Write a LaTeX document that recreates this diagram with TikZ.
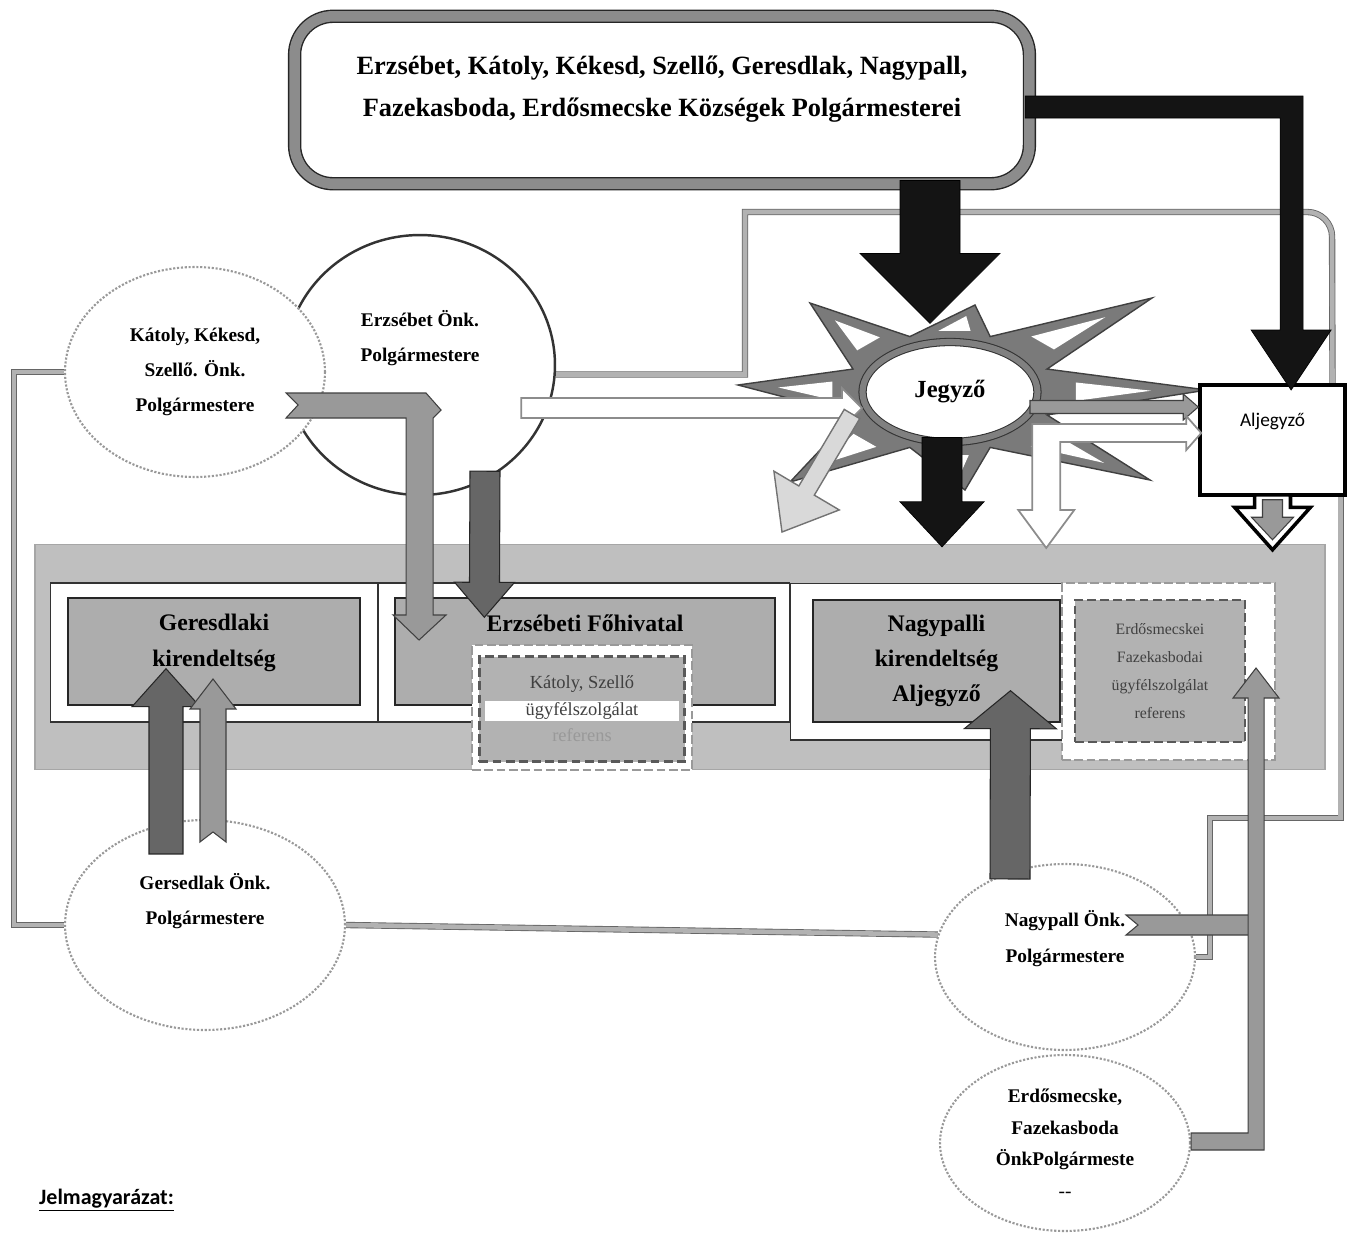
\documentclass[tikz,border=0pt]{standalone}
\usepackage{fontspec}
\setmainfont{Liberation Serif}
\newfontfamily\calfont{Carlito}
\usepackage{tikz}
\usetikzlibrary{calc, shapes.geometric, backgrounds}
\setlength{\fboxsep}{1pt}

\tikzset{
    % Polgarmesterek
    kozbox/.style={rectangle, rounded corners=22pt, draw=black!85, line width=0.8pt,
                double=black!45, double distance=6pt, fill=white,
                minimum width=14.7cm, minimum height=3.35cm, align=center,
                font=\fontsize{15}{24}\selectfont\bfseries},
    onk/.style={ellipse, fill=white, draw=black!40, line width=1.2pt, densely dotted,
                inner sep=0pt, align=center, font=\fontsize{11}{20}\selectfont\bfseries},
    onkfo/.style={onk, draw=black!80, solid, line width=1.4pt},
    % Hivatal
    hband/.style={rectangle, fill=black!25, draw=black!35, line width=0.8pt,
                minimum width=25.8cm, minimum height=4.5cm},
    hpanel/.style={rectangle, fill=white, draw=black!80, line width=0.6pt},
    hoffice/.style={rectangle, fill=black!32, draw=black!85, line width=0.8pt, align=center,
                font=\fontsize{13.5}{20}\selectfont\bfseries},
    refouter/.style={rectangle, fill=white, draw=black!40, line width=1.6pt,
                dash pattern=on 5pt off 2pt},
    refinner/.style={rectangle, fill=black!30, draw=black!65, line width=1.4pt,
                dash pattern=on 5pt off 2.5pt, align=center, text=black!75,
                font=\fontsize{9}{16}\selectfont},
    % Jegyzo
    jegyzoell/.style={ellipse, fill=white, draw=black!80, line width=0.6pt,
                double=black!50, double distance=3.5pt, minimum width=3.5cm,
                minimum height=2cm, font=\fontsize{14}{16}\selectfont\bfseries},
    starshape/.style={fill=black!52, draw=black!75, line width=0.8pt},
    aljbox/.style={rectangle, fill=white, draw=black, line width=2pt,
                minimum width=2.9cm, minimum height=2.2cm, font=\calfont\fontsize{11}{13}\selectfont},
    % Nyilak
    conn/.style={draw=black!60, line width=0.5pt, double=black!30, double distance=2.6pt},
    blkblack/.style={fill=black!92, draw=black},
    blkdark/.style={fill=black!60, draw=black!85, line width=0.6pt},
    blkgrey/.style={fill=black!40, draw=black!75, line width=0.6pt},
    blklight/.style={fill=black!15, draw=black!55, line width=0.8pt},
    blkwhite/.style={fill=white, draw=black!45, line width=1pt},
    blkhollow/.style={fill=white, draw=black, line width=2pt},
}

% [stilus]{honnan}{hova}{fel szar}{fel fej}{fej hossz}
\newcommand{\blockarrow}[6][]{%
  \filldraw[#1] let \p1=(#2), \p2=(#3),
      \n1={atan2(\y2-\y1,\x2-\x1)}, \n2={veclen(\x2-\x1,\y2-\y1)-#6} in
    ($(\p1)+({\n1+90}:#4)$) -- ($(\p1)+(\n1:{\n2*1pt})+({\n1+90}:#4)$)
    -- ($(\p1)+(\n1:{\n2*1pt})+({\n1+90}:#5)$) -- (\p2)
    -- ($(\p1)+(\n1:{\n2*1pt})+({\n1-90}:#5)$)
    -- ($(\p1)+(\n1:{\n2*1pt})+({\n1-90}:#4)$)
    -- ($(\p1)+({\n1-90}:#4)$) -- cycle;}

\begin{document}
\begin{tikzpicture}[x=0.02cm, y=-0.02cm]
\useasboundingbox (0,0) rectangle (1347,1232);

% hivatal savja
\node[hband] (hivatal) at (680,657) {};
\node[hpanel, minimum width=6.56cm, minimum height=2.78cm] (gerpanel) at (214,652.5) {};
\node[hpanel, minimum width=8.24cm, minimum height=2.78cm] (erzpanel) at (584,652.5) {};
\node[hpanel, minimum width=5.7cm, minimum height=3.14cm] (nagypanel) at (932.5,661.5) {};
\node[hoffice, minimum width=5.84cm, minimum height=2.14cm, text depth=0.45cm] (geresdlaki) at (214,651.5) {Geresdlaki\\kirendeltség};
\node[hoffice, minimum width=7.6cm, minimum height=2.14cm, text depth=1.12cm] (erzsebeti) at (585,651.5) {Erzsébeti Főhivatal};
\node[hoffice, minimum width=4.94cm, minimum height=2.44cm] (nagypalli) at (936.5,661) {Nagypalli\\kirendeltség\\Aljegyző};
\node[refouter, minimum width=4.4cm, minimum height=2.5cm] (kszkeret) at (582,707.5) {};
\node[refinner, minimum width=4cm, minimum height=2.1cm, font=\fontsize{10.5}{15}\selectfont] (kszref) at (582,709) {Kátoly, Szellő\\\colorbox{white}{\makebox[3.8cm]{ügyfélszolgálat}}\\{\color{black!40}referens}};
\node[refouter, minimum width=4.26cm, minimum height=3.54cm] (efkeret) at (1168.5,671.5) {};
\node[refinner, minimum width=3.4cm, minimum height=2.84cm] (efref) at (1160,671) {Erdősmecskei\\Fazekasbodai\\ügyfélszolgálat\\referens};

% felso doboz
\node[kozbox, text depth=0.55cm] (kozsegek) at (662,100) {Erzsébet, Kátoly, Kékesd, Szellő, Geresdlak, Nagypall,\\Fazekasboda, Erdősmecske Községek Polgármesterei};

% polgarmesterek
\node[onkfo, minimum width=5.4cm, minimum height=5.2cm, text depth=1.15cm] (erzsebet) at (420,365) {Erzsébet Önk.\\Polgármestere};
\node[onk, minimum width=5.2cm, minimum height=4.2cm] (katoly) at (195,372) {Kátoly, Kékesd,\\Szellő. Önk.\\Polgármestere};
\node[onk, minimum width=5.6cm, minimum height=4.2cm, text depth=1.05cm] (gersedlak) at (205,925) {Gersedlak Önk.\\Polgármestere};
\node[onk, minimum width=5.2cm, minimum height=3.72cm, text depth=0.82cm] (nagypall) at (1065,957) {Nagypall Önk.\\Polgármestere};
\node[onk, minimum width=5cm, minimum height=3.52cm, font=\fontsize{11}{18}\selectfont\bfseries] (erdos) at (1065,1143) {Erdősmecske,\\Fazekasboda\\ÖnkPolgármeste\\{\mdseries -{}-}};

% jegyzo csillag
\coordinate (jc) at (950,392);
\foreach \nm/\cx/\cy in {s1/1207/390, s2/1150/480, s3/965/490, s4/790/482,
                         s5/738/385, s6/810/303, s7/975/305, s8/1152/298}
  \coordinate (\nm) at (\cx,\cy);
\filldraw[starshape] (s1) \foreach \k [evaluate=\k as \ang using {45*(\k-1)}] in {2,...,8} {
    -- ($(jc)+({\ang-22.5}:105 and 60)$) -- (s\k) } -- ($(jc)+(337.5:105 and 60)$) -- cycle;
\foreach \k [evaluate=\k as \ang using {45*(\k-1)}] in {1,...,8} {
  \coordinate (pa) at ($(jc)+({\ang-22.5}:105 and 60)$);
  \coordinate (pb) at ($(jc)+({\ang+22.5}:105 and 60)$);
  \coordinate (pm) at ($(pa)!0.5!(pb)$);
  \coordinate (pp) at ($(pm)!0.3!(s\k)$);
  \fill[white] ($(pp)!0.5!(s\k)$) -- ($(pp)!0.4!(pa)$) -- ($(pp)!0.4!(pb)$) -- cycle;
}
\node[jegyzoell] (jegyzo) at (jc) {Jegyző};
\node[aljbox, text depth=0.82cm] (aljegyzo) at (1272.5,440) {Aljegyző};

% osszekoto vonalak
\begin{scope}[on background layer]
\draw[conn] (katoly.west) -- ++(-50,0) |- (gersedlak.west);
\draw[conn] (gersedlak.east) -- (nagypall.170);
\draw[conn] (erzsebet.-4) -| (745,212) -- (1300,212) [rounded corners=14pt] -- (1332,212) -- ($(aljegyzo.north)+(60,0)$);
\draw[conn] (nagypall.east) -| (1210,818) -| ($(aljegyzo.south east)+(-6,0)$);
\end{scope}

% nyilak
\blockarrow[blkblack]{$(kozsegek.south)+(268,-4)$}{$(jegyzo.north)+(-20,-18)$}{0.6cm}{1.4cm}{1.4cm}
\filldraw[blkblack] ($(kozsegek.east)+(-5,-4)$) -- ++(278,0) -- ++(0,234) -- ++(28,0)
    -- ++(-40,60) -- ++(-40,-60) -- ++(29,0) -- ++(0,-212) -- ++(-255,0) -- cycle;
\blockarrow[blkblack]{$(jegyzo.south)+(-8,-5)$}{$(hivatal.north)+(262,3)$}{0.4cm}{0.84cm}{0.9cm}
\coordinate (jobbra) at ($(jegyzo.east)+(-8,15)$);
\blockarrow[blkgrey]{jobbra}{aljegyzo.west |- jobbra}{0.13cm}{0.26cm}{0.3cm}
\filldraw[blkwhite] ($(aljegyzo.west)+(3,-7)$) -- ++(-15,-17) -- ++(0,8) -- ++(-154,0)
    -- ++(0,86) -- ++(-14,0) -- ++(28,38) -- ++(28,-38) -- ++(-14,0) -- ++(0,-68)
    -- ++(126,0) -- ++(0,8) -- cycle;
\blockarrow[blkhollow]{$(aljegyzo.south)+(0,-2)$}{$(aljegyzo.south)+(0,53)$}{0.36cm}{0.76cm}{0.85cm}
\blockarrow[blkgrey]{$(aljegyzo.south)+(0,3)$}{$(aljegyzo.south)+(0,43)$}{0.2cm}{0.42cm}{0.45cm}
\blockarrow[blkwhite]{$(erzsebet.east)+(-35,43)$}{$(jegyzo.west)+(0,16)$}{0.2cm}{0.4cm}{0.4cm}
\blockarrow[blklight]{$(jegyzo.west)+(-10,22)$}{$(jegyzo.west)+(-80,140)$}{0.18cm}{0.76cm}{0.96cm}
\filldraw[blkgrey] ($(katoly.east)+(-40,21)$) -- ++(140,0) -- ++(15,17) -- ++(-8,8)
    -- ++(0,197) -- ++(13,0) -- ++(-27,25) -- ++(-26,-25) -- ++(13,0) -- ++(0,-197)
    -- ++(-120,0) -- ++(12,-13) -- cycle;
\blockarrow[blkdark]{$(erzsebet.south)+(65,-25)$}{$(erzsebeti.north west)+(90,20)$}{0.3cm}{0.6cm}{0.7cm}
\blockarrow[blkdark]{$(gersedlak.north)+(-39,35)$}{$(geresdlaki.south)+(-48,-37)$}{0.34cm}{0.68cm}{0.76cm}
\filldraw[blkgrey] ($(gersedlak.north)+(-5,23)$) -- ++(13,-10) -- ++(13,10) -- ++(0,-133)
    -- ++(10,0) -- ++(-23,-30) -- ++(-23,30) -- ++(10,0) -- cycle;
\blockarrow[blkdark]{$(nagypall.north)+(-55,16)$}{$(nagypalli.south)+(74,-32)$}{0.4cm}{0.92cm}{0.76cm}
\filldraw[blkgrey] ($(nagypall.east)+(-70,-42)$) -- ++(130,0) -- ++(0,20) -- ++(-130,0) -- ++(12,-10) -- cycle;
\filldraw[blkgrey] ($(erdos.east)+(0,-10)$) -- ++(57,0) -- ++(0,-435) -- ++(-15,0) -- ++(23,-30)
    -- ++(23,30) -- ++(-15,0) -- ++(0,452) -- ++(-73,0) -- cycle;

\node[anchor=west, font=\calfont\bfseries\fontsize{12.5}{14}\selectfont] (jelmagy) at (33,1200) {\underline{Jelmagyarázat:}};
\end{tikzpicture}
\end{document}
